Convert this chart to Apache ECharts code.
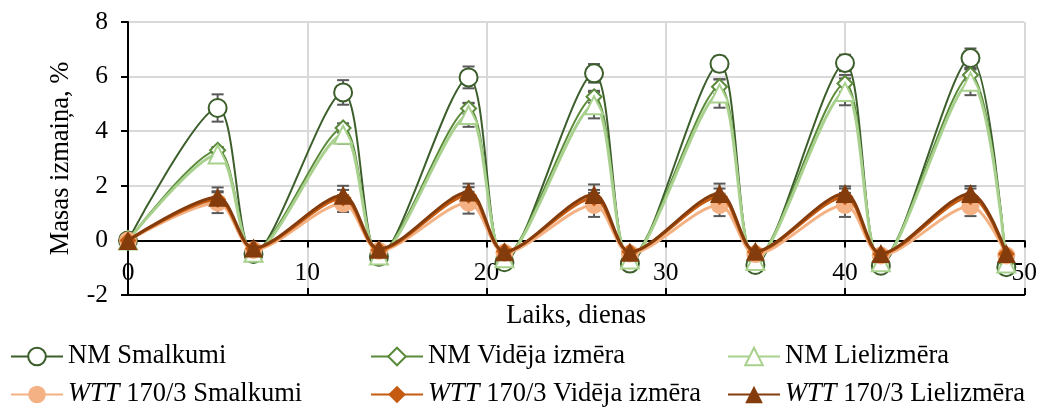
<!DOCTYPE html>
<html>
<head>
<meta charset="utf-8">
<script src="https://cdn.jsdelivr.net/npm/echarts@6/dist/echarts.min.js"></script>
<style>
  html, body { margin: 0; padding: 0; background: #fff; }
  #chart { width: 1040px; height: 409px; }
</style>
</head>
<body>
<div id="chart"></div>
<script>
// Measurement days
const days = [0, 5, 7, 12, 14, 19, 21, 26, 28, 33, 35, 40, 42, 47, 49];

// Mass change, % (mean values)
const nmSmalkumi   = [0, 4.85, -0.5, 5.42, -0.6, 5.97, -0.8, 6.12, -0.85, 6.47, -0.9, 6.5, -0.93, 6.68, -0.98];
const nmVideja     = [0, 3.3, -0.4, 4.12, -0.5, 4.83, -0.6, 5.26, -0.65, 5.63, -0.7, 5.75, -0.75, 6.06, -0.8];
const nmLiel       = [0, 3.15, -0.45, 3.87, -0.55, 4.59, -0.65, 4.95, -0.7, 5.38, -0.75, 5.44, -0.8, 5.81, -0.85];
const wttSmalkumi  = [0, 1.38, -0.35, 1.35, -0.38, 1.38, -0.45, 1.3, -0.48, 1.3, -0.5, 1.3, -0.55, 1.25, -0.55];
const wttVideja    = [0, 1.5, -0.3, 1.55, -0.35, 1.65, -0.4, 1.55, -0.42, 1.6, -0.42, 1.6, -0.5, 1.6, -0.5];
const wttLiel      = [0, 1.58, -0.28, 1.65, -0.32, 1.77, -0.42, 1.68, -0.43, 1.72, -0.4, 1.72, -0.48, 1.72, -0.48];

// Standard deviations (error bars)
const nmSmalkumiErr  = [0, 0.5, 0.05, 0.45, 0.05, 0.4, 0.05, 0.34, 0.05, 0.28, 0.05, 0.3, 0.05, 0.35, 0.05];
const nmVidejaErr    = [0, 0.12, 0.05, 0.17, 0.05, 0.21, 0.05, 0.22, 0.05, 0.27, 0.05, 0.31, 0.05, 0.2, 0.05];
const nmLielErr      = [0, 0.25, 0.05, 0.33, 0.05, 0.43, 0.05, 0.48, 0.05, 0.52, 0.05, 0.49, 0.05, 0.49, 0.05];
const wttSmalkumiErr = [0, 0.38, 0.05, 0.31, 0.05, 0.4, 0.05, 0.44, 0.05, 0.41, 0.05, 0.44, 0.05, 0.36, 0.05];
const wttVidejaErr   = [0, 0.3, 0.05, 0.3, 0.05, 0.3, 0.05, 0.3, 0.05, 0.3, 0.05, 0.3, 0.05, 0.3, 0.05];
const wttLielErr     = [0, 0.36, 0.05, 0.35, 0.05, 0.31, 0.05, 0.37, 0.05, 0.36, 0.05, 0.26, 0.05, 0.27, 0.05];

// Axis ticks
const xTicks = { min: 0, max: 50, interval: 10 };
const yTicks = { min: -2, max: 8, interval: 2 };

const seriesNames = [
  'NM Smalkumi', 'NM Vidēja izmēra', 'NM Lielizmēra',
  'WTT 170/3 Smalkumi', 'WTT 170/3 Vidēja izmēra', 'WTT 170/3 Lielizmēra'
];

const FONT = '"Liberation Serif", "Times New Roman", serif';

const specs = [
  { name: seriesNames[0], values: nmSmalkumi,  err: nmSmalkumiErr,  color: '#3b5e2b', symbol: 'circle',   size: 18, fill: '#ffffff', width: 2 },
  { name: seriesNames[1], values: nmVideja,    err: nmVidejaErr,    color: '#5a8a3a', symbol: 'diamond',  size: 15, fill: '#ffffff', width: 2 },
  { name: seriesNames[2], values: nmLiel,      err: nmLielErr,      color: '#a9d18e', symbol: 'triangle', size: 18, fill: '#ffffff', width: 3 },
  { name: seriesNames[3], values: wttSmalkumi, err: wttSmalkumiErr, color: '#f4b183', symbol: 'circle',   size: 18, fill: null,      width: 3 },
  { name: seriesNames[4], values: wttVideja,   err: wttVidejaErr,   color: '#c55a11', symbol: 'diamond',  size: 17, fill: null,      width: 3 },
  { name: seriesNames[5], values: wttLiel,     err: wttLielErr,     color: '#843c0c', symbol: 'triangle', size: 19, fill: null,      width: 3 }
];

// Error bars: vertical whisker with caps, drawn under the markers
function errorSeries(spec) {
  return {
    type: 'custom',
    name: spec.name + ' err',
    z: 1,
    silent: true,
    data: days.map((d, i) => [d, spec.values[i], spec.err[i]]),
    encode: { x: 0, y: 1 },
    renderItem: function (params, api) {
      const x = api.value(0), y = api.value(1), e = api.value(2);
      if (!e) return null;
      const hi = api.coord([x, y + e]);
      const lo = api.coord([x, y - e]);
      const w = 6;
      const style = { stroke: '#595959', lineWidth: 2 };
      return {
        type: 'group',
        children: [
          { type: 'line', shape: { x1: hi[0], y1: hi[1], x2: lo[0], y2: lo[1] }, style: style },
          { type: 'line', shape: { x1: hi[0] - w, y1: hi[1], x2: hi[0] + w, y2: hi[1] }, style: style },
          { type: 'line', shape: { x1: lo[0] - w, y1: lo[1], x2: lo[0] + w, y2: lo[1] }, style: style }
        ]
      };
    }
  };
}

function lineSeries(spec, idx) {
  return {
    type: 'line',
    name: spec.name,
    z: 2 + idx,
    data: days.map((d, i) => [d, spec.values[i]]),
    smooth: 0.3,
    symbol: spec.symbol,
    symbolSize: spec.size,
    showAllSymbol: true,
    lineStyle: { color: spec.color, width: spec.width },
    itemStyle: {
      color: spec.fill || spec.color,
      borderColor: spec.color,
      borderWidth: spec.fill ? 2 : 0
    },
    emphasis: { disabled: true },
    animation: false
  };
}

const series = [];
specs.forEach(s => series.push(errorSeries(s)));
specs.forEach((s, i) => series.push(lineSeries(s, i)));

// Legend: two rows of three, one component per entry to keep columns aligned
const legendPos = [
  { left: 10,  top: 343 }, { left: 370, top: 343 }, { left: 727, top: 343 },
  { left: 10,  top: 381 }, { left: 370, top: 381 }, { left: 727, top: 381 }
];
const legends = seriesNames.map((n, i) => ({
  data: [n],
  left: legendPos[i].left,
  top: legendPos[i].top,
  padding: 0,
  itemWidth: 52,
  itemHeight: 22,
  itemGap: 0,
  selectedMode: false,
  textStyle: {
    fontFamily: FONT, fontSize: 26.5, color: '#000',
    rich: { i: { fontFamily: FONT, fontSize: 26.5, fontStyle: 'italic', color: '#000' } }
  },
  formatter: name => name.replace('WTT', '{i|WTT}')
}));

const axisBlack = { show: true, onZero: true, lineStyle: { color: '#000', width: 2 } };

const option = {
  backgroundColor: '#fff',
  animation: false,
  grid: { left: 128, right: 15, top: 22, bottom: 114, containLabel: false },
  legend: legends,
  xAxis: [
    {
      type: 'value', min: xTicks.min, max: xTicks.max, interval: xTicks.interval, position: 'bottom',
      name: 'Laiks, dienas', nameLocation: 'middle', nameGap: 8,
      nameTextStyle: { fontFamily: FONT, fontSize: 26.5, color: '#000', verticalAlign: 'top' },
      axisLine: axisBlack,
      axisTick: { show: true, inside: false, length: 7, lineStyle: { color: '#000', width: 2 } },
      axisLabel: { fontFamily: FONT, fontSize: 25.5, color: '#000', margin: -35 },
      splitLine: { show: true, lineStyle: { color: '#d9d9d9', width: 2 } }
    },
    {
      type: 'value', min: xTicks.min, max: xTicks.max, interval: xTicks.interval, position: 'bottom',
      axisLine: axisBlack,
      axisTick: { show: true, inside: true, length: 7, lineStyle: { color: '#000', width: 2 } },
      axisLabel: { show: false },
      splitLine: { show: false }
    }
  ],
  yAxis: {
    type: 'value', min: yTicks.min, max: yTicks.max, interval: yTicks.interval,
    name: 'Masas izmaiņa, %', nameLocation: 'middle', nameGap: 53,
    nameTextStyle: { fontFamily: FONT, fontSize: 26.5, color: '#000' },
    axisLine: { show: true, onZero: false, lineStyle: { color: '#000', width: 2 } },
    axisTick: { show: true, inside: false, length: 7, lineStyle: { color: '#000', width: 2 } },
    axisLabel: { fontFamily: FONT, fontSize: 25.5, color: '#000', margin: 20 },
    splitLine: { show: true, lineStyle: { color: '#d9d9d9', width: 2 } }
  },
  series: series
};

const chart = echarts.init(document.getElementById('chart'), null, { renderer: 'canvas' });
chart.setOption(option);
</script>
</body>
</html>
